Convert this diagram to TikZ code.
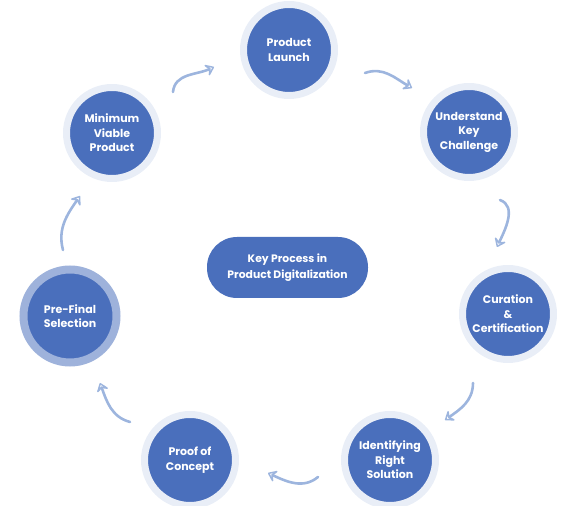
\documentclass[tikz,border=0pt]{standalone}
\usepackage{fontspec}
\setmainfont{Poppins}
\usetikzlibrary{arrows.meta}
\definecolor{stageblue}{HTML}{4A6FBC}
\definecolor{ringpale}{HTML}{E9EEF7}
\definecolor{ringdark}{HTML}{9EB2DB}
\definecolor{flowblue}{HTML}{9DB5DE}
\tikzset{
  stage/.style={circle, fill=stageblue, draw=ringpale, line width=7pt, minimum size=91pt, inner sep=0pt, outer sep=0pt,
    text=white, align=center, font=\bfseries\fontsize{11}{14.5}\selectfont},
  hub/.style={rectangle, rounded corners=30pt, fill=stageblue, minimum width=161pt, minimum height=61pt,
    text=white, align=center, font=\bfseries\fontsize{10.8}{16}\selectfont},
  flow/.style={draw=flowblue, line width=2.6pt, line cap=round, line join=round,
    -{Stealth[open, round, length=10pt, width=15pt, inset=4pt]}}
}
\begin{document}
\begin{tikzpicture}[x=1pt, y=1pt]
        \useasboundingbox (0,0) rectangle (579,506);
        \node[stage] (launch) at (289,456) {Product\\Launch};
        \node[stage] (challenge) at (469,374) {Understand\\Key\\Challenge};
        \node[stage] (curation) at (508,192) {Curation\\\&\\Certification};
        \node[stage] (solution) at (390,46) {Identifying\\Right\\Solution};
        \node[stage] (concept) at (190,46) {Proof of\\Concept};
        \node[stage, draw=ringdark, line width=8pt, minimum size=93pt] (selection) at (70,190) {Pre-Final\\Selection};
        \node[stage] (mvp) at (112,373) {Minimum\\Viable\\Product};
        \node[hub] (process) at (287.5,238.5) {Key Process in\\Product Digitalization};
        \coordinate (mvpout) at (173,414);
        \coordinate (launchin) at (214,439);
        \coordinate (launchout) at (365,433);
        \coordinate (challengein) at (412,418);
        \coordinate (challengeout) at (500,306);
        \coordinate (curationin) at (497,259);
        \coordinate (curationout) at (473,123);
        \coordinate (solutionin) at (445,86);
        \coordinate (solutionout) at (318,29);
        \coordinate (conceptin) at (268,33);
        \coordinate (conceptout) at (130,84);
        \coordinate (selectionin) at (100,123);
        \coordinate (selectionout) at (63,256);
        \coordinate (mvpin) at (80,310);
        \draw[flow] (mvpout) to[out=85, in=205] (launchin);
        \draw[flow] (launchout) to[out=20, in=150] (challengein);
        \draw[flow] (challengeout) to[out=-20, in=65] (curationin);
        \draw[flow] (curationout) to[out=-90, in=35] (solutionin);
        \draw[flow] (solutionout) to[out=-140, in=-25] (conceptin);
        \draw[flow] (conceptout) to[out=165, in=-70] (selectionin);
        \draw[flow] (selectionout) to[out=105, in=235] (mvpin);
    \end{tikzpicture}
\end{document}
